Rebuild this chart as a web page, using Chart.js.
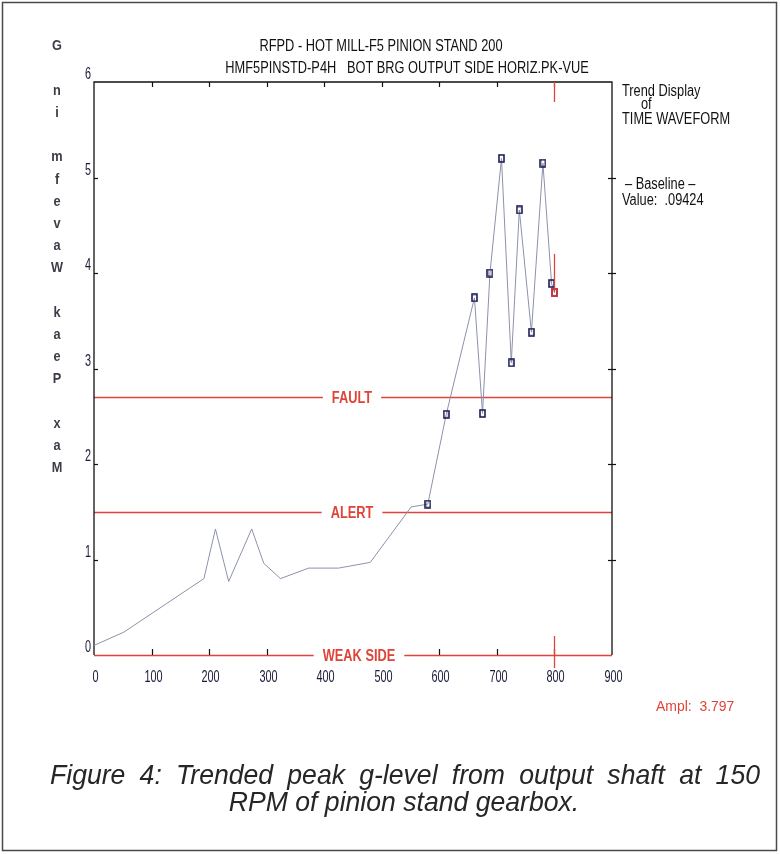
<!DOCTYPE html>
<html>
<head>
<meta charset="utf-8">
<script src="https://cdn.jsdelivr.net/npm/chart.js@4.4.1/dist/chart.umd.min.js"></script>
<style>
  html, body { margin: 0; padding: 0; background: #ffffff; }
  #wrap { position: relative; width: 780px; height: 854px; }
</style>
</head>
<body>
<div id="wrap"><canvas id="trend" width="780" height="854"></canvas></div>
<script>
// Trend samples: sample number and peak g-level
const sampleNo = [0, 52, 191, 211, 234, 274, 295, 324, 373, 425, 480, 551,
                  580, 612, 661, 675, 688, 708, 725, 739, 760, 780, 795, 800];
const peakG    = [0.10, 0.24, 0.80, 1.32, 0.77, 1.32, 0.96, 0.80, 0.91, 0.91, 0.97, 1.55,
                  1.58, 2.52, 3.74, 2.53, 4.00, 5.20, 3.06, 4.66, 3.38, 5.15, 3.89, 3.797];
const firstMarked = 12;             // samples from here on carry a square marker

const xTickValues = [0, 100, 200, 300, 400, 500, 600, 700, 800, 900];
const yTickValues = [0, 1, 2, 3, 4, 5, 6];

const limitNames  = ['FAULT', 'ALERT', 'WEAK SIDE'];
const limitValues = [2.7, 1.5, 0];

const cursorSample = 800;
const cursorAmpl   = 3.797;
const cursorTop    = 4.2;

const titleLines = ['RFPD - HOT MILL-F5 PINION STAND 200',
                    'HMF5PINSTD-P4H   BOT BRG OUTPUT SIDE HORIZ.PK-VUE'];
const yTitle = 'Max Peak Wavefm in G';
const sideNotes = ['Trend Display', 'of', 'TIME WAVEFORM', '\u2013 Baseline \u2013', 'Value:  .09424'];
const amplNote = 'Ampl:  ' + cursorAmpl;
const captionLines = ['Figure 4: Trended peak g-level from output shaft at 150',
                      'RPM of pinion stand gearbox.'];

const SANS = '"Liberation Sans", Arial, sans-serif';
const RED = '#de4438';
const INK = '#1b1b3a';

function squareMarker(color, w, h) {
  const c = document.createElement('canvas');
  c.width = w; c.height = h;
  const g = c.getContext('2d');
  g.strokeStyle = color; g.lineWidth = 1.6;
  g.strokeRect(1, 1, w - 2, h - 2);
  return c;
}
const navyBox = squareMarker('#1d1d55', 7, 9);
const redBox  = squareMarker('#d83a3a', 7, 9);

// text squeezed horizontally by sx, vertically centred on y
function narrowText(ctx, s, x, y, o) {
  ctx.save();
  ctx.font = (o.style || '') + ' ' + (o.weight || 'normal') + ' ' + o.size + 'px ' + SANS;
  ctx.fillStyle = o.color || INK;
  ctx.textAlign = o.align || 'left';
  ctx.textBaseline = 'middle';
  ctx.translate(x, y);
  ctx.scale(o.sx || 1, 1);
  ctx.fillText(s, 0, 0);
  ctx.restore();
}

// a caption line spread word by word between two x positions
function justifiedText(ctx, s, x0, x1, y, font, sx, color) {
  ctx.save();
  ctx.font = font; ctx.fillStyle = color; ctx.textBaseline = 'middle'; ctx.textAlign = 'left';
  const words = s.split(' ');
  const widths = words.map(w => ctx.measureText(w).width * sx);
  const total = widths.reduce((a, b) => a + b, 0);
  const gap = (x1 - x0 - total) / (words.length - 1);
  let cx = x0;
  words.forEach((w, i) => {
    ctx.save(); ctx.translate(cx, y); ctx.scale(sx, 1); ctx.fillText(w, 0, 0); ctx.restore();
    cx += widths[i] + gap;
  });
  ctx.restore();
}

const framePlugin = {
  id: 'framePlugin',
  beforeDatasetsDraw(chart) {
    const { ctx, chartArea: a, scales: { x, y } } = chart;
    ctx.save();
    // outer figure border
    ctx.strokeStyle = '#4a4a4a'; ctx.lineWidth = 1.5;
    ctx.strokeRect(2.5, 2.5, 774, 848);

    // limit lines
    const limitPx = limitValues.map(v => Math.round(y.getPixelForValue(v)) + 0.5);
    ctx.strokeStyle = RED; ctx.lineWidth = 1.4;
    limitPx.forEach(py => {
      ctx.beginPath(); ctx.moveTo(a.left, py); ctx.lineTo(a.right, py); ctx.stroke();
    });

    // axes frame (bottom edge is the red base line)
    ctx.strokeStyle = '#111111'; ctx.lineWidth = 1.3;
    ctx.beginPath();
    ctx.moveTo(a.left, y.getPixelForValue(0)); ctx.lineTo(a.left, a.top);
    ctx.lineTo(a.right, a.top); ctx.lineTo(a.right, y.getPixelForValue(0));
    ctx.stroke();

    // x ticks: inward on top and bottom
    ctx.lineWidth = 1.2;
    xTickValues.forEach(v => {
      const px = Math.round(x.getPixelForValue(v)) + 0.5;
      if (v !== 0 && v !== 900) {
        ctx.strokeStyle = v === cursorSample ? RED : '#111111';
        ctx.beginPath(); ctx.moveTo(px, a.top); ctx.lineTo(px, a.top + 5); ctx.stroke();
        ctx.strokeStyle = '#111111';
        ctx.beginPath(); ctx.moveTo(px, a.bottom); ctx.lineTo(px, a.bottom - 6); ctx.stroke();
      }
      narrowText(ctx, String(v), px + 1, a.bottom + 23, { size: 16, color: INK, align: 'center', sx: 0.68 });
    });

    // y ticks: inward on the left, crossing on the right
    yTickValues.forEach(v => {
      const py = Math.round(y.getPixelForValue(v)) + 0.5;
      if (v !== 0 && v !== 6) {
        ctx.beginPath(); ctx.moveTo(a.left, py); ctx.lineTo(a.left + 4, py); ctx.stroke();
        ctx.beginPath(); ctx.moveTo(a.right - 4, py); ctx.lineTo(a.right + 4, py); ctx.stroke();
      }
      narrowText(ctx, String(v), a.left - 3, py - 8, { size: 16, color: INK, align: 'right', sx: 0.68 });
    });

    // limit labels on a white patch that breaks the line
    limitPx.forEach((py, i) => {
      const cx = (a.left + a.right) / 2 + (i === 2 ? 6 : -1);
      ctx.font = 'bold 16px ' + SANS;
      const w = ctx.measureText(limitNames[i]).width * 0.8;
      ctx.fillStyle = '#ffffff';
      ctx.fillRect(cx - w / 2 - 9, py - 9, w + 18, 18);
      narrowText(ctx, limitNames[i], cx, py + 1, { size: 16, weight: 'bold', color: RED, align: 'center', sx: 0.8 });
    });

    // vertical axis title, one upright letter per row, read bottom to top
    yTitle.split('').forEach((ch, i) => {
      if (ch === ' ') return;
      narrowText(ctx, ch, 57, 468 - i * 22.2, { size: 15, weight: 'bold', color: '#3c3c48', align: 'center', sx: 0.85 });
    });

    // titles
    narrowText(ctx, titleLines[0], 381, 47, { size: 16, color: '#111111', align: 'center', sx: 0.8 });
    narrowText(ctx, titleLines[1], 407, 69, { size: 16, color: '#111111', align: 'center', sx: 0.8 });

    // side notes
    const noteY = [92, 105, 120, 185, 201];
    const noteX = [622, 641, 622, 625, 622];
    sideNotes.forEach((s, i) => narrowText(ctx, s, noteX[i], noteY[i], { size: 16, color: '#111111', sx: 0.8 }));
    narrowText(ctx, amplNote, 656, 707, { size: 15, color: RED, sx: 0.93 });

    // caption
    justifiedText(ctx, captionLines[0], 50, 760, 776, 'italic 28px ' + SANS, 0.95, '#262626');
    narrowText(ctx, captionLines[1], 404, 803, { size: 28, style: 'italic', color: '#262626', align: 'center', sx: 0.95 });
    ctx.restore();
  },
  afterDatasetsDraw(chart) {
    const { ctx, chartArea: a, scales: { x, y } } = chart;
    ctx.save();
    ctx.strokeStyle = RED; ctx.lineWidth = 1.3;
    const px = Math.round(x.getPixelForValue(cursorSample)) + 0.5;
    // cursor marks: at the top edge, at the value, and across the base line
    ctx.beginPath(); ctx.moveTo(px, a.top); ctx.lineTo(px, a.top + 20); ctx.stroke();
    ctx.beginPath(); ctx.moveTo(px, y.getPixelForValue(cursorTop)); ctx.lineTo(px, y.getPixelForValue(cursorAmpl)); ctx.stroke();
    ctx.beginPath(); ctx.moveTo(px, a.bottom - 19); ctx.lineTo(px, a.bottom + 13); ctx.stroke();
    ctx.restore();
  }
};

const points = sampleNo.map((s, i) => ({ x: s, y: peakG[i] }));

new Chart(document.getElementById('trend'), {
  type: 'scatter',
  data: {
    datasets: [
      {
        data: [{ x: cursorSample, y: cursorAmpl }],
        pointStyle: redBox, pointRadius: 4, showLine: false
      },
      {
        data: points,
        showLine: true,
        borderColor: '#8d91aa',
        borderWidth: 1,
        tension: 0,
        pointStyle: navyBox,
        pointRadius: points.map((p, i) => i >= firstMarked ? 4 : 0),
        pointHoverRadius: 0
      }
    ]
  },
  options: {
    responsive: false,
    animation: false,
    events: [],
    layout: { padding: { left: 94, right: 168, top: 82, bottom: 199 } },
    scales: {
      x: { type: 'linear', min: 0, max: 900, display: false },
      y: { type: 'linear', min: 0, max: 6, display: false }
    },
    plugins: { legend: { display: false }, tooltip: { enabled: false } }
  },
  plugins: [framePlugin]
});
</script>
</body>
</html>
